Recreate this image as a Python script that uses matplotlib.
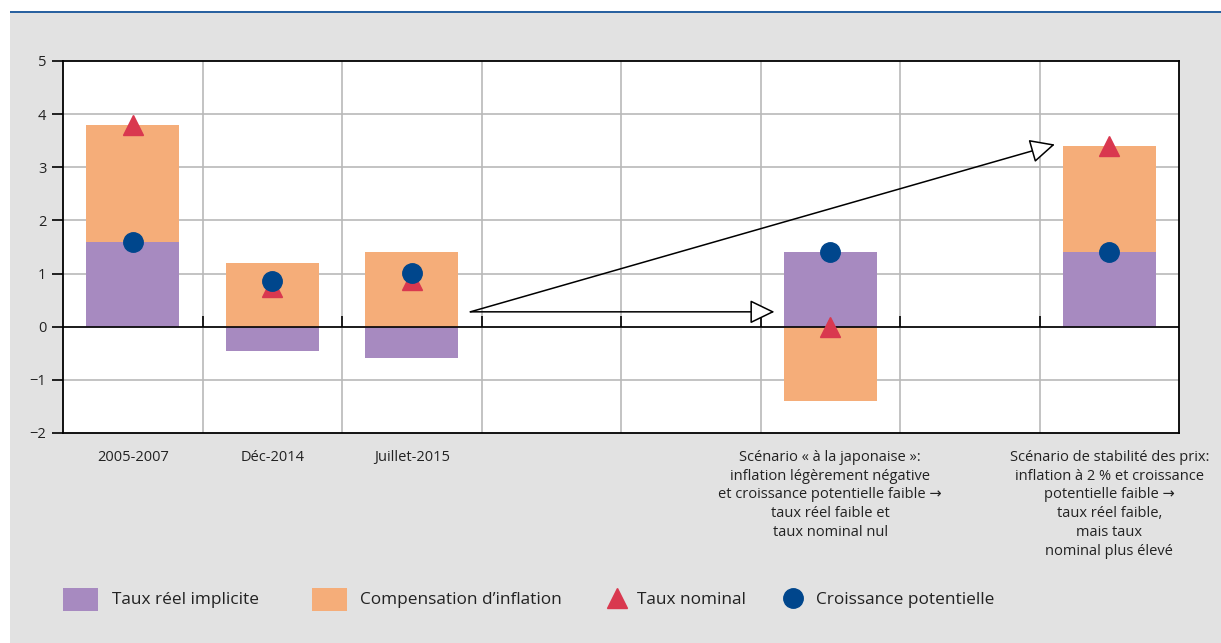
import numpy as np
import matplotlib as mpl
mpl.use('Agg')
import matplotlib.pyplot as plt
from matplotlib.patches import Rectangle, FancyArrowPatch, ArrowStyle

plt.rcParams['font.family'] = ['Open Sans', 'DejaVu Sans']
plt.rcParams['axes.unicode_minus'] = True

# data
labels = ["2005-2007", "Déc-2014", "Juillet-2015", "", "",
          "Scénario « à la japonaise »:\ninflation légèrement négative\n"
          "et croissance potentielle faible →\ntaux réel faible et\ntaux nominal nul",
          "",
          "Scénario de stabilité des prix:\ninflation à 2 % et croissance\n"
          "potentielle faible →\ntaux réel faible,\nmais taux\nnominal plus élevé"]
real_rate = [1.6, -0.45, -0.58, np.nan, np.nan, 1.4, np.nan, 1.4]
infl_comp = [2.2, 1.2, 1.4, np.nan, np.nan, -1.4, np.nan, 2.0]
nominal = [3.8, 0.75, 0.88, np.nan, np.nan, 0.0, np.nan, 3.4]
growth = [1.6, 0.86, 1.02, np.nan, np.nan, 1.4, np.nan, 1.4]

series_names = ["Taux réel implicite", "Compensation d\u2019inflation",
                "Taux nominal", "Croissance potentielle"]

c_real = '#a78ac0'
c_infl = '#f5ad79'
c_nom = '#d9384f'
c_gro = '#00468c'
c_grid = '#b9b9b9'
c_bg = '#e2e2e2'

W, H = 1221, 643
fig = plt.figure(figsize=(W / 100, H / 100), dpi=100, facecolor='white')

# gray panel + top rule
fig.patches.append(Rectangle((10 / W, 0), 1, (H - 13) / H, transform=fig.transFigure,
                             facecolor=c_bg, edgecolor='none', zorder=-10))
fig.patches.append(Rectangle((10 / W, (H - 13) / H), 1, 2 / H, transform=fig.transFigure,
                             facecolor='#2a62a0', edgecolor='none', zorder=-9))

ax = fig.add_axes([63 / W, (H - 433) / H, (1179 - 63) / W, (433 - 61) / H])
ax.set_facecolor('white')

x = np.arange(len(labels))
real = np.array(real_rate)
infl = np.array(infl_comp)
# stacking: same sign stacks on top of real rate, opposite sign starts from 0
infl_bottom = np.where(np.sign(infl) == np.sign(real), real, 0.0)

ax.bar(x, real, width=0.667, color=c_real, zorder=2)
ax.bar(x, infl, width=0.667, bottom=infl_bottom, color=c_infl, zorder=2)
ax.plot(x, nominal, linestyle='none', marker='^', ms=14, color=c_nom, mec=c_nom, zorder=4)
ax.plot(x, growth, linestyle='none', marker='o', ms=14, color=c_gro, mec=c_gro, zorder=5)

ax.set_xlim(-0.5, len(labels) - 0.5)
ax.set_ylim(-2, 5)
ax.set_yticks(range(-2, 6))
ax.set_xticks(x)
ax.set_xticklabels(labels, fontsize=10.5, linespacing=1.35, va='top', color='#222222')
ax.tick_params(axis='x', length=0, pad=12)
ax.tick_params(axis='y', length=8, width=1.2, pad=4, labelsize=10.5, labelcolor='#222222')

# grid: vertical lines at category boundaries
for b in np.arange(0.5, len(labels) - 0.5):
    ax.axvline(b, color=c_grid, lw=1.2, zorder=1)
for yv in range(-1, 5):
    ax.axhline(yv, color=c_grid, lw=1.2, zorder=1)
ax.axhline(0, color='black', lw=1.2, zorder=3)
ax.vlines(np.arange(0.5, len(labels) - 0.5), 0, 0.2, color='black', lw=1.2, zorder=3)

for s in ax.spines.values():
    s.set_linewidth(1.3)
    s.set_color('black')

# scenario arrows
style = ArrowStyle('-|>', head_length=15.5, head_width=7.5)
for end in [(4.60, 0.28), (6.61, 3.43)]:
    arr = FancyArrowPatch((2.42, 0.28), end, arrowstyle=style, mutation_scale=1,
                          shrinkA=0, shrinkB=0, fc='white', ec='black', lw=1.1, zorder=6)
    ax.add_patch(arr)

# legend
lax = fig.add_axes([0, 0, 1, 1])
lax.set_xlim(0, W)
lax.set_ylim(H, 0)
lax.axis('off')
lax.add_patch(Rectangle((63, 588), 35, 23, facecolor=c_real, edgecolor='none'))
lax.add_patch(Rectangle((312, 588), 35, 23, facecolor=c_infl, edgecolor='none'))
lax.plot([617], [598], marker='^', ms=14, color=c_nom, linestyle='none')
lax.plot([793], [598], marker='o', ms=14, color=c_gro, linestyle='none')
for tx, name in zip([112, 360, 637, 816], series_names):
    lax.text(tx, 600, name, fontsize=12.4, va='center', ha='left', color='#222222')

plt.savefig("out.png", dpi=100, facecolor=fig.get_facecolor())
